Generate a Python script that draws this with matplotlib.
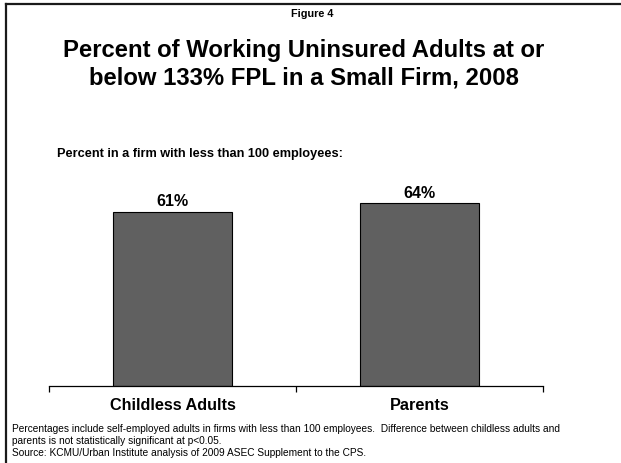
import matplotlib.pyplot as plt
from matplotlib.lines import Line2D

plt.rcParams['font.family'] = ['Liberation Sans', 'DejaVu Sans']

categories = ['Childless Adults', 'Parents']
values = [61, 64]
value_labels = ['61%', '64%']

W, H = 621, 463
fig = plt.figure(figsize=(W / 100, H / 100), dpi=100)

# border on top and left, like the slide frame
fig.add_artist(Line2D([6 / W, 6 / W], [0, 1 - 4 / H], color='#1a1a1a', lw=1.6))
fig.add_artist(Line2D([6 / W, 1], [1 - 4 / H, 1 - 4 / H], color='#1a1a1a', lw=1.6))

ax = fig.add_axes([49 / W, 1 - 386 / H, 494 / W, 286 / H])
x = list(range(len(categories)))
ax.bar(x, values, width=0.48, color='#606060', edgecolor='black', linewidth=0.8)
for xi, v, lab in zip(x, values, value_labels):
    ax.text(xi, v + 1.8, lab, ha='center', va='baseline', fontsize=11.5, fontweight='bold')

ax.set_xlim(-0.5, 1.5)
ax.set_ylim(0, 100)
for s in ['top', 'right', 'left']:
    ax.spines[s].set_visible(False)
ax.spines['bottom'].set_linewidth(0.9)
ax.set_yticks([])
ax.set_xticks([-0.5, 0.5, 1.5])
ax.set_xticklabels([])
ax.tick_params(axis='x', length=4, width=0.9, direction='out')
for xi, c in zip(x, categories):
    ax.text(xi, -8.4, c, ha='center', va='baseline', fontsize=11.7, fontweight='bold')

fig.text(312 / W, 1 - 14 / H, 'Figure 4', ha='center', va='center', fontsize=7.8, fontweight='bold')
fig.text(304 / W, 1 - 57 / H, 'Percent of Working Uninsured Adults at or',
         ha='center', va='baseline', fontsize=17.2, fontweight='bold')
fig.text(304 / W, 1 - 85 / H, 'below 133% FPL in a Small Firm, 2008',
         ha='center', va='baseline', fontsize=17.2, fontweight='bold')
fig.text(57 / W, 1 - 154 / H, 'Percent in a firm with less than 100 employees:',
         ha='left', va='center', fontsize=9.2, fontweight='bold')

notes = ['Percentages include self-employed adults in firms with less than 100 employees.  '
         'Difference between childless adults and',
         'parents is not statistically significant at p<0.05.',
         'Source: KCMU/Urban Institute analysis of 2009 ASEC Supplement to the CPS.']
for i, line in enumerate(notes):
    fig.text(12 / W, 1 - (432 + 12 * i) / H, line, ha='left', va='baseline', fontsize=7.3)

fig.savefig('out.png', dpi=100)
